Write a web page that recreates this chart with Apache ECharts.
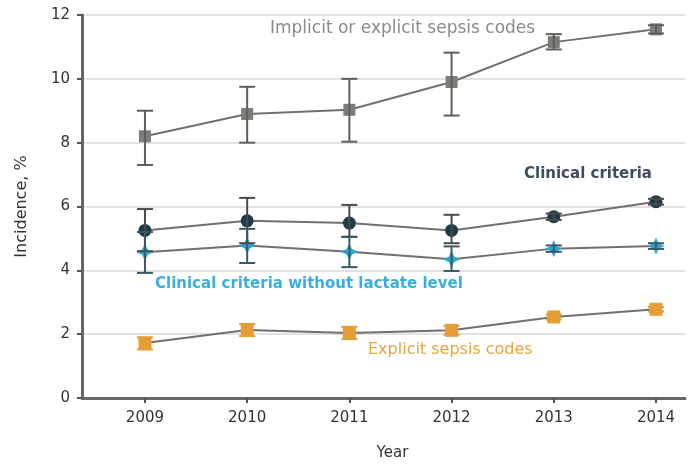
<!DOCTYPE html>
<html>
<head>
<meta charset="utf-8">
<script src="https://cdn.jsdelivr.net/npm/echarts@6/dist/echarts.min.js"></script>
<style>
  html, body { margin: 0; padding: 0; background: #fff; }
  #chart { width: 689px; height: 467px; }
</style>
</head>
<body>
<div id="chart"></div>
<script>
// Sepsis incidence by year, four case definitions, with 95% CI whiskers
const years = [2009, 2010, 2011, 2012, 2013, 2014];
const yTicks = [0, 2, 4, 6, 8, 10, 12];

const implicitVals = [8.2, 8.9, 9.03, 9.9, 11.15, 11.55];
const implicitLow  = [7.3, 8.0, 8.03, 8.85, 10.92, 11.42];
const implicitHigh = [9.0, 9.75, 10.0, 10.82, 11.4, 11.68];

const clinicalVals = [5.25, 5.55, 5.48, 5.25, 5.68, 6.15];
const clinicalLow  = [4.6, 4.85, 5.05, 4.85, 5.58, 6.06];
const clinicalHigh = [5.92, 6.27, 6.05, 5.74, 5.78, 6.24];

const noLactateVals = [4.57, 4.78, 4.58, 4.35, 4.68, 4.76];
const noLactateLow  = [3.92, 4.23, 4.1, 3.98, 4.58, 4.67];
const noLactateHigh = [5.2, 5.3, 5.05, 4.75, 4.78, 4.85];

const explicitVals = [1.72, 2.13, 2.04, 2.12, 2.54, 2.78];
const explicitLow  = [1.52, 1.94, 1.85, 1.98, 2.46, 2.71];
const explicitHigh = [1.9, 2.32, 2.23, 2.26, 2.62, 2.85];

const FONT = "'DejaVu Sans', 'Liberation Sans', sans-serif";
const LINE = '#707070';

function pairs(vals) { return years.map((y, i) => [y, vals[i]]); }
function ciData(low, high) { return years.map((y, i) => [y, low[i], high[i]]); }

function errorBars(low, high, color) {
  return {
    type: 'custom',
    z: 5,
    silent: true,
    renderItem: function (params, api) {
      const x = api.value(0);
      const lo = api.coord([x, api.value(1)]);
      const hi = api.coord([x, api.value(2)]);
      const half = 8;
      const style = { stroke: color, lineWidth: 2 };
      return {
        type: 'group',
        children: [
          { type: 'line', shape: { x1: lo[0], y1: lo[1], x2: hi[0], y2: hi[1] }, style: style },
          { type: 'line', shape: { x1: lo[0] - half, y1: lo[1], x2: lo[0] + half, y2: lo[1] }, style: style },
          { type: 'line', shape: { x1: hi[0] - half, y1: hi[1], x2: hi[0] + half, y2: hi[1] }, style: style }
        ]
      };
    },
    encode: { x: 0, y: [1, 2] },
    data: ciData(low, high)
  };
}

function lineSeries(name, vals, symbol, color, size) {
  return {
    name: name,
    type: 'line',
    z: 4,
    data: pairs(vals),
    symbol: symbol,
    symbolSize: size,
    lineStyle: { color: LINE, width: 2 },
    itemStyle: { color: color, borderWidth: 0 }
  };
}

const starPath = 'path://M50,0 L66,34 L100,50 L66,66 L50,100 L34,66 L0,50 L34,34 Z';

const chart = echarts.init(document.getElementById('chart'), null, { renderer: 'canvas' });
chart.setOption({
  animation: false,
  backgroundColor: '#ffffff',
  grid: { left: 82, right: 4, top: 15, bottom: 69, containLabel: false },
  xAxis: {
    type: 'value',
    min: 2008.384,
    max: 2014.284,
    name: 'Year',
    nameLocation: 'middle',
    nameGap: 48,
    nameTextStyle: { fontFamily: FONT, fontSize: 15, color: '#333', padding: [0, 0, 0, 18] },
    axisLine: { show: true, onZero: false, lineStyle: { color: '#666', width: 3 } },
    axisTick: { show: true, customValues: years, length: 5, lineStyle: { color: '#555', width: 2 } },
    axisLabel: { customValues: years, fontFamily: FONT, fontSize: 15, color: '#333', margin: 13,
                 formatter: v => String(v) },
    splitLine: { show: false }
  },
  yAxis: {
    type: 'value',
    min: 0,
    max: 12,
    interval: 2,
    name: 'Incidence, %',
    nameLocation: 'middle',
    nameGap: 52,
    nameTextStyle: { fontFamily: FONT, fontSize: 16, color: '#333' },
    axisLine: { show: true, lineStyle: { color: '#666', width: 3 } },
    axisTick: { show: true, length: 5, lineStyle: { color: '#555', width: 2 } },
    axisLabel: { fontFamily: FONT, fontSize: 15, color: '#333', margin: 12,
                 formatter: v => (yTicks.indexOf(v) >= 0 ? String(v) : '') },
    splitLine: { show: true, lineStyle: { color: '#e2e2e2', width: 2 } }
  },
  series: [
    lineSeries('Implicit or explicit sepsis codes', implicitVals, 'rect', '#7d7d78', 12),
    errorBars(implicitLow, implicitHigh, '#5e5e5e'),
    lineSeries('Clinical criteria', clinicalVals, 'circle', '#1f3b48', 13),
    errorBars(clinicalLow, clinicalHigh, '#4a4a4a'),
    lineSeries('Clinical criteria without lactate level', noLactateVals, starPath, '#2aa6d2', 17),
    errorBars(noLactateLow, noLactateHigh, '#3b5866'),
    lineSeries('Explicit sepsis codes', explicitVals, 'rect', '#e59d36', 13),
    errorBars(explicitLow, explicitHigh, '#e59d36')
  ],
  graphic: [
    { type: 'text', left: 270, top: 20,
      style: { text: 'Implicit or explicit sepsis codes', fill: '#8a8a8a', font: '17px ' + FONT } },
    { type: 'text', left: 524, top: 167,
      style: { text: 'Clinical criteria', fill: '#3d4d5c', font: 'bold 15px ' + FONT } },
    { type: 'text', left: 155, top: 277,
      style: { text: 'Clinical criteria without lactate level', fill: '#3aaee2', font: 'bold 15px ' + FONT } },
    { type: 'text', left: 368, top: 342,
      style: { text: 'Explicit sepsis codes', fill: '#e8a53c', font: '16px ' + FONT } }
  ]
});
</script>
</body>
</html>
